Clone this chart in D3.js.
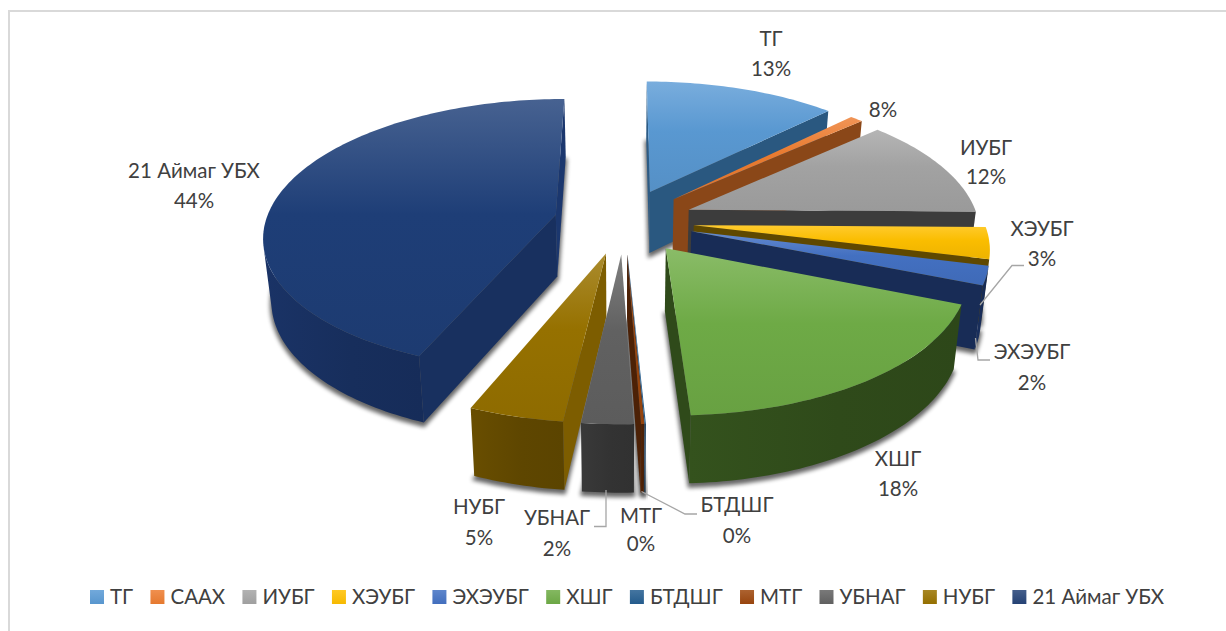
<!DOCTYPE html>
<html>
<head>
<meta charset="utf-8">
<script src="https://cdn.jsdelivr.net/npm/d3@7"></script>
<style>
  html, body { margin: 0; padding: 0; background: #fff; }
  text { font-family: Lato, "Open Sans", sans-serif; fill: #404040; }
</style>
</head>
<body>
<div id="chart"></div>
<script>
// Data
const categories = ["ТГ", "СААХ", "ИУБГ", "ХЭУБГ", "ЭХЭУБГ", "ХШГ", "БТДШГ", "МТГ", "УБНАГ", "НУБГ", "21 Аймаг УБХ"]
const shares = [12.5, 0.85, 11.85, 3.7, 2.2, 18.1, 0.05, 0.15, 2.4, 4.4, 43.8]
const percentLabels = ["13%", "8%", "12%", "3%", "2%", "18%", "0%", "0%", "2%", "5%", "44%"]

const colors = ["#5b9bd5", "#ed7d31", "#a5a5a5", "#ffc000", "#4472c4", "#70ad47", "#255e91", "#9e480e", "#636363", "#997300", "#264478"]
const wallColors = ["#2a5880", "#8a4718", "#3c3c3c", "#5f4800", "#182c56", "#2f4a1a", "#163a5c", "#4c2106", "#333333", "#5e4600", "#172e5c"]

// Hand placed labels, [x, y of name line, y of value line], like in the original
const labelPos = [[771, 39, 69], [883, 0, 110], [986, 148, 177], [1042, 229, 259], [1032, 352, 383],
    [898, 459, 489], [737, 505, 536], [641, 516, 544], [557, 518, 549], [479, 507, 538], [194, 171, 201]]

const leaders = [
    [[980, 305], [1012, 265.5], [1024, 265.5]],
    [[975.5, 338], [978, 360], [990, 360]],
    [[606, 490], [606, 526.5], [594, 526.5]],
    [[641.5, 491.5], [685, 514], [697, 514]]
]

const width = 1226
const height = 631

const svg = d3.select("#chart")
    .append("svg")
    .attr("width", width)
    .attr("height", height)
    .style("display", "block")

const defs = svg.append("defs")
defs.append("filter")
    .attr("id", "soft")
    .attr("x", "-10%").attr("y", "-10%").attr("width", "120%").attr("height", "120%")
    .append("feGaussianBlur")
    .attr("stdDeviation", 2.2)

// Chart frame
svg.append("rect")
    .attr("x", 9)
    .attr("y", 11)
    .attr("width", width + 20)
    .attr("height", height + 20)
    .attr("fill", "#fff")
    .attr("stroke", "#d9d9d9")
    .attr("stroke-width", 2)

// Tilted pie with a bit of perspective
const cx = 624, cy = 221
const radius = 290, explode = 70
const tilt = 0.463, persp = 0.0005
const wallHeight = 62, wallShrink = 0.023

function project(X, Y, bottom) {
    let w = 1 / (1 + persp * Y)
    let k = bottom ? 1 - wallShrink : 1
    let sx = cx + X * w * k
    let sy = cy - tilt * Y * w
    if (bottom) sy += wallHeight * Math.sqrt(w)
    return [sx, sy]
}

function signedArea(pts) {
    let a = 0
    pts.forEach((p, i) => {
        let q = pts[(i + 1) % pts.length]
        a += p[0] * q[1] - q[0] * p[1]
    })
    return a
}

const line = d3.line()
const pie = d3.pie().sort(null)(shares)

const slices = pie.map((d, i) => {
    let mid = (d.startAngle + d.endAngle) / 2
    let ox = explode * Math.sin(mid)
    let oy = explode * Math.cos(mid)
    let steps = Math.max(2, Math.ceil((d.endAngle - d.startAngle) / 0.02))
    let angles = d3.range(steps + 1).map(s => d.startAngle + (d.endAngle - d.startAngle) * s / steps)
    let outer = angles.map(a => [ox + radius * Math.sin(a), oy + radius * Math.cos(a)])
    return { i, mid, apex: [ox, oy], outer, angles }
})

// Far slices first so the near ones paint over them
const order = slices.slice().sort((a, b) => Math.cos(b.mid) - Math.cos(a.mid))

const plot = svg.append("g")

order.forEach(s => {
    const g = plot.append("g").attr("class", "slice")
    const i = s.i
    const top = p => project(p[0], p[1], false)
    const bot = p => project(p[0], p[1], true)
    const wall = d3.color(wallColors[i])

    // soft shadow under the slice
    g.append("path")
        .attr("d", line([bot(s.apex), ...s.outer.map(bot)]) + "Z")
        .attr("fill", "#000")
        .attr("stroke", "#000")
        .attr("stroke-width", 3)
        .attr("opacity", 0.6)
        .attr("filter", "url(#soft)")
        .attr("transform", "translate(0,3)")

    // start wall
    let a0 = s.outer[0]
    let startWall = [top(a0), top(s.apex), bot(s.apex), bot(a0)]
    if (signedArea(startWall) > 0) {
        g.append("path")
            .attr("d", line(startWall) + "Z")
            .attr("fill", wall.brighter(i === 9 ? 0.8 : 0.1))
    }

    // end wall
    let a1 = s.outer[s.outer.length - 1]
    let endWall = [top(s.apex), top(a1), bot(a1), bot(s.apex)]
    if (signedArea(endWall) > 0) {
        g.append("path")
            .attr("d", line(endWall) + "Z")
            .attr("fill", i === 10 ? wall.brighter(0.5) : wall)
    }

    // outer wall, only the part that faces the viewer
    let front = []
    s.outer.slice(1).forEach((p, j) => {
        let q = s.outer[j]
        if (signedArea([top(q), top(p), bot(p), bot(q)]) < 0) {
            if (!front.length) front.push(q)
            front.push(p)
        }
    })
    if (front.length) {
        let wallGrad = defs.append("linearGradient")
            .attr("id", "wall" + i)
            .attr("x1", 0).attr("y1", 0).attr("x2", 1).attr("y2", 0)
        wallGrad.append("stop").attr("offset", "0%").attr("stop-color", wall.brighter(0.3))
        wallGrad.append("stop").attr("offset", "55%").attr("stop-color", wall)
        wallGrad.append("stop").attr("offset", "100%").attr("stop-color", wall.darker(0.1))
        g.append("path")
            .attr("d", line([...front.map(top), ...front.slice().reverse().map(bot)]) + "Z")
            .attr("fill", `url(#wall${i})`)
    }

    // top face with the vertical sheen
    let grad = defs.append("linearGradient")
        .attr("id", "top" + i)
        .attr("x1", 0).attr("y1", 0).attr("x2", 0).attr("y2", 1)
    let base = i === 10 ? d3.rgb("#1f3f79") : d3.rgb(colors[i])
    grad.append("stop").attr("offset", "0%").attr("stop-color", d3.interpolateRgb(base, "#fff")(0.18))
    grad.append("stop").attr("offset", "45%").attr("stop-color", base.darker(0.05))
    grad.append("stop").attr("offset", "100%").attr("stop-color", base.darker(0.2))

    g.append("path")
        .attr("d", line([top(s.apex), ...s.outer.map(top)]) + "Z")
        .attr("fill", `url(#top${i})`)
})

// Leader lines
svg.append("g")
    .selectAll("path")
    .data(leaders)
    .join("path")
    .attr("d", d => line(d))
    .attr("fill", "none")
    .attr("stroke", "#a6a6a6")
    .attr("stroke-width", 1.3)

// Data labels, the СААХ one shows only its value
const labelG = svg.append("g")
    .attr("font-size", 20.5)
    .attr("text-anchor", "middle")

categories.forEach((c, i) => {
    let pos = labelPos[i]
    if (pos[1] > 0) {
        labelG.append("text")
            .attr("x", pos[0])
            .attr("y", pos[1])
            .attr("dy", "0.35em")
            .text(c)
    }
    labelG.append("text")
        .attr("x", pos[0])
        .attr("y", pos[2])
        .attr("dy", "0.35em")
        .text(percentLabels[i])
})

// Legend
const legend = svg.append("g").attr("font-size", 20.5)
let legendX = 90
categories.forEach((c, i) => {
    let grad = defs.append("linearGradient")
        .attr("id", "swatch" + i)
        .attr("x1", 0).attr("y1", 0).attr("x2", 0).attr("y2", 1)
    grad.append("stop").attr("offset", "0%").attr("stop-color", d3.interpolateRgb(colors[i], "#fff")(0.14))
    grad.append("stop").attr("offset", "100%").attr("stop-color", d3.rgb(colors[i]).darker(0.1))
    legend.append("rect")
        .attr("x", legendX)
        .attr("y", 590)
        .attr("width", 14)
        .attr("height", 14)
        .attr("fill", `url(#swatch${i})`)
    let t = legend.append("text")
        .attr("x", legendX + 20)
        .attr("y", 597)
        .attr("dy", "0.35em")
        .text(c)
    legendX += 20 + t.node().getComputedTextLength() + 17.3
})
</script>
</body>
</html>
